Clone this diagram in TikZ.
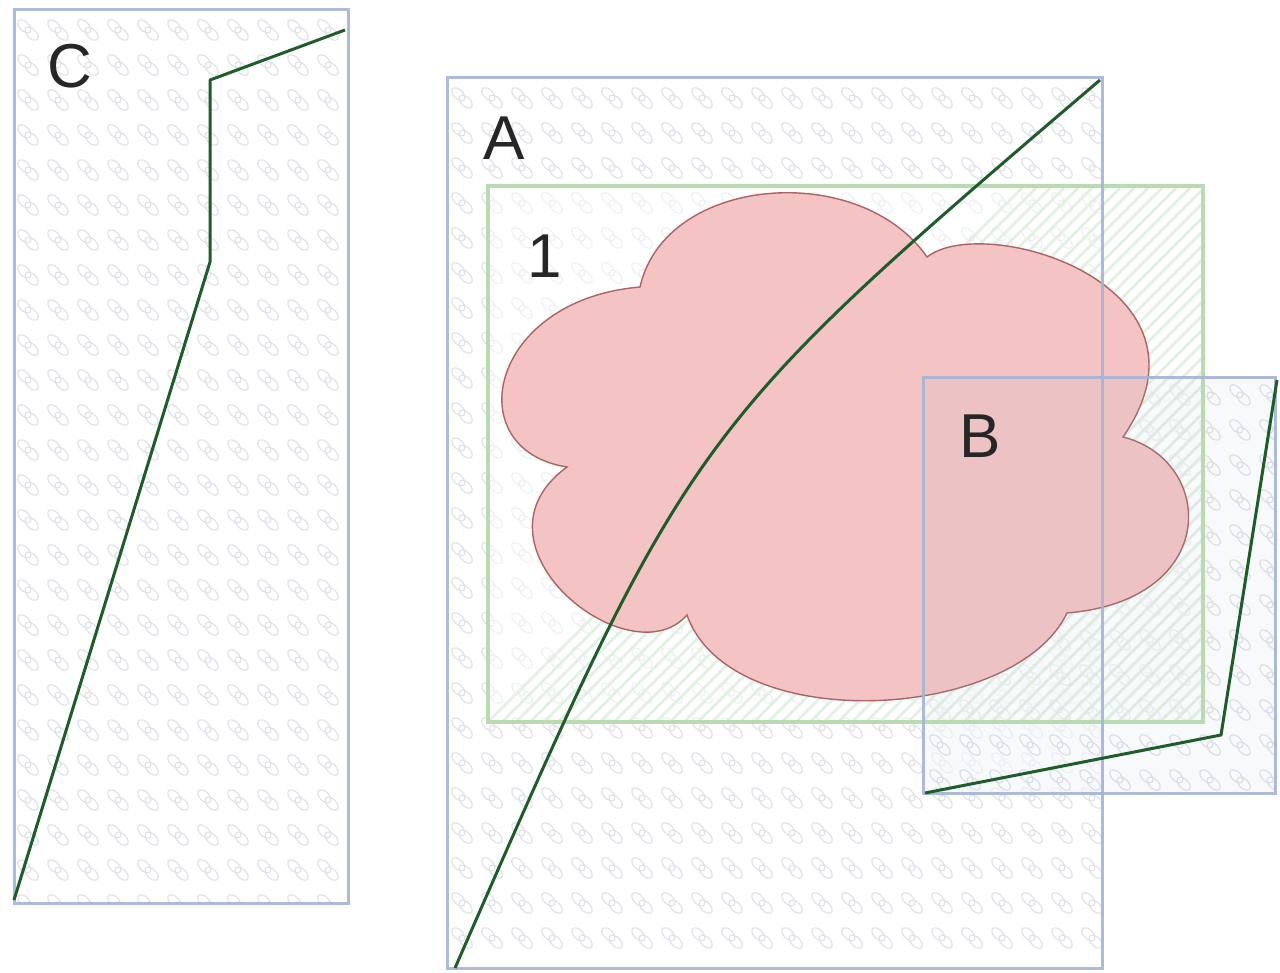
\documentclass[tikz,border=0pt]{standalone}
\usepackage{fontspec}
\setmainfont{Liberation Sans}
\begin{document}
\begin{tikzpicture}[x=0.5pt,y=-0.5pt,
  boxline/.style={draw=boxblue,line width=1.5pt,opacity=0.9},
  greenrect/.style={draw=rectgreen,line width=1.6pt},
  route/.style={draw=routegreen,line width=1.5pt,line join=round},
  lbl/.style={font=\fontsize{31}{31}\selectfont,text=black!85,inner sep=0pt,anchor=base},
  lnk/.pic={\draw[linkgray,line width=0.6pt,rotate=-45]
     (-2.6pt,0pt) ellipse [x radius=4pt,y radius=2.3pt]
     (2.6pt,0pt) ellipse [x radius=4pt,y radius=2.3pt];}
]
\definecolor{boxblue}{RGB}{164,180,214}
\definecolor{rectgreen}{RGB}{184,220,176}
\definecolor{routegreen}{RGB}{30,92,42}
\definecolor{linkgray}{RGB}{224,226,232}
\definecolor{hatchgreen}{RGB}{226,240,226}
\definecolor{cloudfill}{RGB}{244,196,196}
\definecolor{cloudline}{RGB}{170,100,100}
\useasboundingbox (0,0) rectangle (1280,973);
\fill[white] (0,0) rectangle (1280,973);

% ---------- Box C ----------
\coordinate (c1) at (14,10);
\coordinate (c2) at (348,903);
\fill[white] (c1) rectangle (c2);
\begin{scope}
  \clip (c1) rectangle (c2);
  \foreach \gx in {28,58,...,348} \foreach \gy in {30,65,...,905} \pic at (\gx,\gy) {lnk};
\end{scope}

% ---------- Box A ----------
\coordinate (a1) at (447,78);
\coordinate (a2) at (1102,968);
\fill[white] (a1) rectangle (a2);
\begin{scope}
  \clip (a1) rectangle (a2);
  \foreach \gx in {462,492,...,1102} \foreach \gy in {98,133,...,968} \pic at (\gx,\gy) {lnk};
\end{scope}

% ---------- Box B fill ----------
\coordinate (b1) at (923,377);
\coordinate (b2) at (1275,793);
\fill[white,opacity=0.6] (b1) rectangle (b2);
\begin{scope}
  \clip (b1) rectangle (b2);
  \foreach \gx in {940,970,...,1275} \foreach \gy in {395,430,...,795} \pic at (\gx,\gy) {lnk};
\end{scope}

% ---------- Green rectangle 1 ----------
\coordinate (r1) at (488,186);
\coordinate (r2) at (1203,722);
\fill[white,opacity=0.5] (r1) rectangle (r2);
\begin{scope}
  \clip (r1) rectangle (r2);
  \foreach \k in {0,14,...,1260} \draw[hatchgreen,line width=1.3pt] (488+\k,722) -- (488+\k+540,182);
\end{scope}

% ---------- Cloud ----------
\path[fill=cloudfill,draw=cloudline,line width=0.7pt] (640,287)
  .. controls (665,175) and (860,160) .. (927,257)
  .. controls (985,212) and (1228,285) .. (1123,437)
  .. controls (1215,460) and (1222,600) .. (1067,613)
  .. controls (1015,722) and (730,737) .. (687,615)
  .. controls (630,680) and (460,545) .. (567,467)
  .. controls (458,450) and (488,300) .. (640,287) -- cycle;

% tint of B over cloud
\fill[boxblue,opacity=0.08] (b1) rectangle (b2);

% ---------- borders ----------
\draw[greenrect] (r1) rectangle (r2);
\draw[boxline] (c1) rectangle (c2);
\draw[boxline] (a1) rectangle (a2);
\draw[boxline] (b1) rectangle (b2);

% ---------- routes ----------
\coordinate (cp1) at (14,900);
\coordinate (cp2) at (210,262);
\coordinate (cp3) at (210,80);
\coordinate (cp4) at (345,30);
\draw[route] (cp1) -- (cp2) -- (cp3) -- (cp4);

\coordinate (ap1) at (455,968);
\coordinate (apc) at (690,430);
\coordinate (ap2) at (1100,80);
\draw[route] (ap1) .. controls (apc) .. (ap2);

\coordinate (bp1) at (1277,380);
\coordinate (bp2) at (1221,735);
\coordinate (bp3) at (925,793);
\draw[route] (bp1) -- (bp2) -- (bp3);

% ---------- labels ----------
\node[lbl] (labC) at (70,88) {C};
\node[lbl] (labA) at (504,160) {A};
\node[lbl] (lab1) at (545,278) {1};
\node[lbl] (labB) at (980,457) {B};
\end{tikzpicture}
\end{document}
